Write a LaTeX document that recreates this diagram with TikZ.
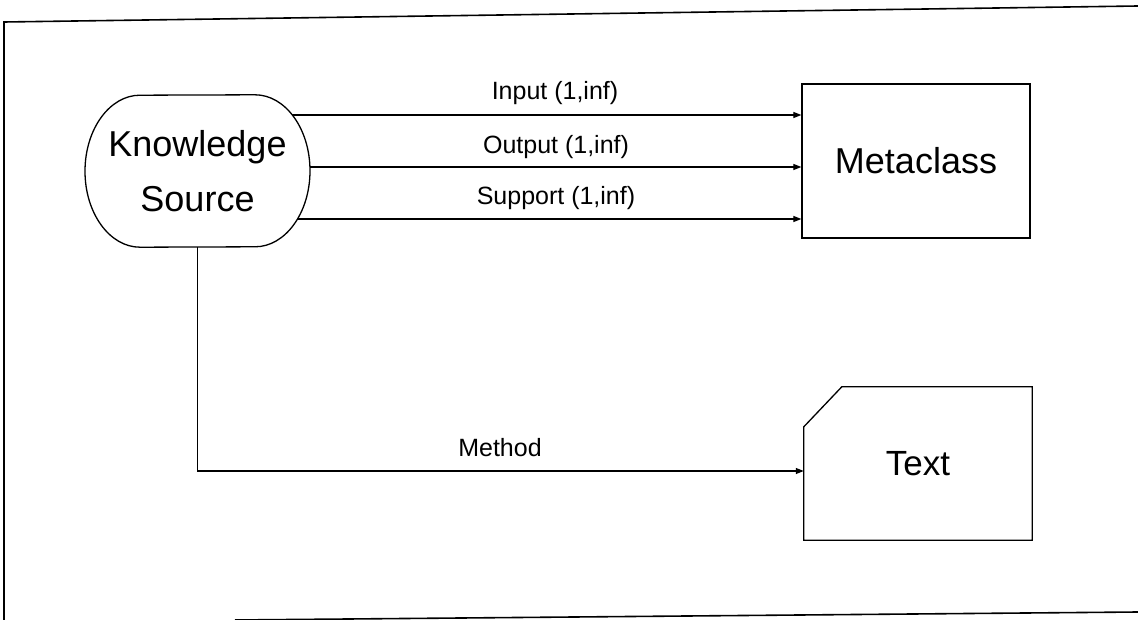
\documentclass[tikz,border=0pt]{standalone}
\usepackage{fontspec}
\setmainfont{Liberation Sans}
\usetikzlibrary{arrows.meta}
\begin{document}
\begin{tikzpicture}[x=1pt,y=-1pt,
  conn/.style={line width=1.2pt, -{Triangle[length=8pt,width=6pt]}},
  frameline/.style={line width=1.6pt},
  outline/.style={line width=1.3pt},
  big/.style={font=\fontsize{36}{55}\selectfont, align=center, inner sep=0pt},
  lbl/.style={font=\fontsize{25}{30}\selectfont, inner sep=0pt}]
\useasboundingbox (0,0) rectangle (1138,620);
% page frame
\coordinate (ftl) at (4,22);
\coordinate (ftr) at (1138,6);
\coordinate (fbl) at (4,620);
\coordinate (fbs) at (235,620);
\coordinate (fbr) at (1138,612);
\draw[frameline] (fbl) -- (ftl) -- (ftr);
\draw[frameline] (fbs) -- (fbr);
% nodes
\node[big, minimum width=225pt, minimum height=152pt] (ks) at (197.5,171) {Knowledge\\Source};
\node[big, draw, outline, minimum width=228pt, minimum height=154pt] (meta) at (916,161) {Metaclass};
\node[big, font=\fontsize{35}{42}\selectfont, minimum width=228pt, minimum height=153pt] (txt) at (918,463.5) {Text};
\draw[outline] (txt.south west) -- ([yshift=-40pt]txt.north west) -- ([xshift=38pt]txt.north west) -- (txt.north east) -- (txt.south east) -- cycle;
% connectors
\coordinate (inE) at ([yshift=46pt]meta.west);
\coordinate (outE) at ([yshift=-6pt]meta.west);
\coordinate (supE) at ([yshift=-58pt]meta.west);
\coordinate (mE) at ([yshift=-7.5pt]txt.west);
\draw[conn] (ks.center |- inE) -- (inE);
\draw[conn] (ks.center |- outE) -- (outE);
\draw[conn] (ks.center |- supE) -- (supE);
\draw[conn] (ks.south) |- (mE);
% knowledge source outline (covers connector starts)
\draw[outline, fill=white] ([xshift=57.5pt]ks.north) arc[start angle=90, end angle=-90, x radius=55pt, y radius=76pt]
  -- ([xshift=-57.5pt]ks.south) arc[start angle=270, end angle=90, x radius=55pt, y radius=76pt] -- cycle;
\node[big] (kst) at (ks.center) {Knowledge\\Source};
% labels
\node[lbl] (lin) at (555,93) {Input (1,inf)};
\node[lbl] (lout) at (556,147) {Output (1,inf)};
\node[lbl] (lsup) at (556,198) {Support (1,inf)};
\node[lbl] (lm) at (500,448) {Method};
\end{tikzpicture}
\end{document}
